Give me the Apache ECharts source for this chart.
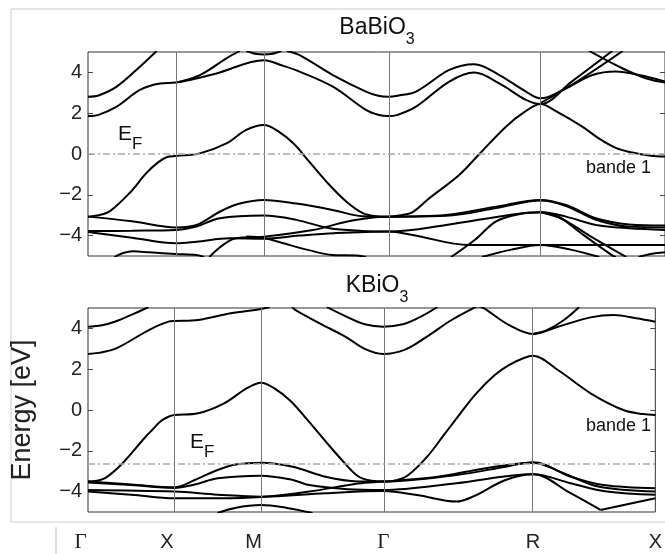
<!DOCTYPE html>
<html>
<head>
<meta charset="utf-8">
<script src="https://cdn.jsdelivr.net/npm/echarts@6/dist/echarts.min.js"></script>
<style>
  html, body { margin: 0; padding: 0; background: #fff; }
  #chart { width: 665px; height: 554px; }
</style>
</head>
<body>
<div id="chart"></div>
<script>
// path positions of the high-symmetry points and their labels
const kPos = [0, 0.5, 1.0, 1.7071, 2.5731, 3.2802];
const kLabels = ['Γ', 'X', 'M', 'Γ', 'R', 'X'];
const yTicks = [-4, -2, 0, 2, 4];
const fermiBa = 0;
const fermiK = -2.65;

// BaBiO3 bands, [k, E(eV)]
const baA = [[0,-3.07],[0.06,-3.0],[0.125,-2.8],[0.238,-1.9],[0.33,-0.95],[0.4,-0.4],[0.45,-0.15],[0.5,-0.1],[0.636,0.03],[0.787,0.52],[0.9,1.18],[1.0,1.42],[1.08,1.12],[1.17,0.5],[1.26,-0.4],[1.36,-1.4],[1.468,-2.33],[1.562,-2.9],[1.64,-3.05],[1.707,-3.07],[1.78,-3.0],[1.846,-2.85],[1.94,-2.17],[2.11,-1.03],[2.225,0],[2.376,1.34],[2.48,2.05],[2.573,2.45],[2.66,2.1],[2.81,1.34],[2.906,0.75],[3.0,0.3],[3.094,0.07],[3.2,-0.08],[3.28,-0.12]];
const baC1 = [[0,1.86],[0.06,1.92],[0.163,2.32],[0.295,3.14],[0.409,3.46],[0.5,3.5],[0.73,3.95],[1.0,4.6],[1.1,4.35],[1.203,4.04],[1.392,3.3],[1.58,2.16],[1.65,1.92],[1.707,1.86],[1.76,1.92],[1.865,2.32],[2.054,3.55],[2.196,3.99],[2.338,3.46],[2.49,2.65],[2.573,2.45],[2.75,3.55],[2.98,5.05]];
const baC2 = [[0,2.81],[0.06,2.87],[0.163,3.3],[0.295,4.28],[0.39,5.05]];
const baC2b = [[1.13,5.05],[1.203,4.85],[1.392,3.87],[1.58,3.06],[1.65,2.86],[1.707,2.81],[1.76,2.86],[1.865,3.06],[2.054,4.12],[2.196,4.4],[2.338,3.87],[2.49,3.06],[2.573,2.73],[2.717,3.22],[2.868,3.87],[3.0,4.04],[3.133,3.87],[3.28,3.55]];
const baC3 = [[0.5,3.5],[0.636,3.87],[0.787,4.69],[0.863,5.05]];
const baC3b = [[2.85,5.05],[3.019,4.28],[3.171,3.71],[3.28,3.5]];
const baC4 = [[2.573,2.5],[2.78,3.55],[3.04,5.05]];
const baTop = [[0.9,5.05],[0.96,4.9],[1.0,4.88],[1.04,4.9],[1.1,5.05]];
const baV1 = [[0,-3.07],[0.25,-3.3],[0.5,-3.6],[0.617,-3.48],[0.749,-2.83],[0.863,-2.43],[1.0,-2.25],[1.184,-2.43],[1.39,-2.74],[1.56,-3.05],[1.707,-3.07],[2.036,-2.99],[2.32,-2.58],[2.573,-2.25],[2.717,-2.5],[2.887,-3.15],[3.076,-3.45],[3.28,-3.5]];
const baV3 = [[0,-3.78],[0.25,-3.76],[0.5,-3.72],[0.617,-3.55],[0.749,-3.15],[1.0,-3.02],[1.184,-3.23],[1.373,-3.64],[1.56,-3.77],[1.707,-3.8],[2.036,-3.48],[2.414,-2.96],[2.573,-2.86],[2.717,-3.07],[2.887,-3.48],[3.076,-3.64],[3.28,-3.72]];
const baV4 = [[0,-3.82],[0.25,-4.1],[0.5,-4.38],[0.617,-4.3],[0.806,-4.13],[1.0,-4.15],[1.2,-4.0],[1.4,-3.88],[1.707,-3.8],[1.846,-3.97],[2.168,-4.46],[2.573,-4.46],[3.28,-4.46]];
const baV5 = [[0.69,-5.05],[0.84,-4.13],[1.0,-4.05],[1.279,-3.73],[1.468,-3.32],[1.62,-3.11],[1.707,-3.07],[2.036,-3.03],[2.32,-2.65],[2.573,-2.28],[2.717,-2.55],[2.887,-3.22],[3.076,-3.56],[3.28,-3.6]];
const baV6 = [[0.9,-4.05],[1.0,-4.12],[1.1,-4.35],[1.25,-4.7],[1.39,-4.95],[1.53,-4.98],[1.58,-5.05]];
const baV7 = [[0.15,-5.05],[0.2,-4.85],[0.257,-4.77],[0.35,-4.82],[0.5,-4.9],[0.617,-4.95],[0.66,-5.05]];
const baV8 = [[2.064,-5.05],[2.2,-4.2],[2.32,-3.3],[2.45,-2.95],[2.573,-2.86],[2.68,-3.1],[2.79,-3.8],[2.98,-4.97],[3.0,-5.05]];
const baV9 = [[2.24,-5.05],[2.4,-4.7],[2.573,-4.46],[2.75,-4.7],[2.906,-5.05]];
const baV10 = [[2.573,-2.86],[2.7,-3.2],[2.85,-4.0],[3.06,-5.05]];
const baV11 = [[3.13,-5.05],[3.2,-4.9],[3.28,-4.82]];

// KBiO3 bands, [k, E(eV)]
const kA = [[0,-3.51],[0.05,-3.47],[0.106,-3.3],[0.2,-2.61],[0.333,-1.31],[0.371,-0.98],[0.42,-0.55],[0.465,-0.33],[0.5,-0.25],[0.636,-0.16],[0.787,0.33],[0.919,1.07],[1.0,1.34],[1.08,1.05],[1.17,0.45],[1.27,-0.5],[1.37,-1.5],[1.468,-2.45],[1.562,-3.25],[1.64,-3.47],[1.707,-3.51],[1.78,-3.45],[1.85,-3.2],[1.96,-2.3],[2.06,-1.2],[2.15,-0.2],[2.244,0.8],[2.35,1.7],[2.433,2.2],[2.52,2.55],[2.573,2.66],[2.717,1.96],[2.906,0.82],[3.095,0],[3.21,-0.2],[3.28,-0.25]];
const kL1 = [[0,4.08],[0.08,4.15],[0.163,4.35],[0.26,4.7],[0.35,5.05]];
const kL2 = [[0,2.75],[0.06,2.8],[0.163,3.02],[0.352,3.92],[0.465,4.33],[0.5,4.36],[0.636,4.41],[0.825,4.74],[1.0,4.95],[1.05,5.05]];
const kL3 = [[1.38,5.05],[1.5,4.55],[1.6,4.2],[1.707,4.08],[1.82,4.2],[1.93,4.6],[2.02,5.05]];
const kL4 = [[1.18,5.05],[1.2,4.9],[1.35,4.2],[1.487,3.6],[1.6,3.0],[1.707,2.75],[1.83,2.95],[1.96,3.6],[2.1,4.4],[2.225,4.98],[2.255,5.08],[2.29,4.98],[2.433,4.17],[2.573,3.73],[2.717,4.08],[2.906,4.54],[3.04,4.66],[3.17,4.5],[3.28,4.33]];
const kL5 = [[2.573,3.73],[2.65,3.9],[2.75,4.4],[2.84,5.05]];
const kW1 = [[0,-3.51],[0.25,-3.65],[0.5,-3.79],[0.617,-3.43],[0.749,-2.94],[0.863,-2.66],[1.0,-2.58],[1.184,-2.78],[1.373,-3.27],[1.562,-3.5],[1.707,-3.51],[2.13,-3.19],[2.414,-2.78],[2.573,-2.56],[2.792,-3.27],[2.98,-3.68],[3.28,-3.84]];
const kW2 = [[0,-3.92],[0.5,-4.0],[0.75,-4.15],[1.0,-4.25],[1.373,-4.08],[1.707,-3.97],[1.903,-4.17],[2.13,-4.49],[2.225,-4.25],[2.414,-3.43],[2.573,-3.15],[2.79,-4.08],[2.963,-4.9]];
const kW3 = [[0,-4.0],[0.25,-4.15],[0.5,-4.33],[0.75,-4.33],[1.0,-4.27],[1.279,-4.0],[1.562,-3.6],[1.707,-3.51],[2.0,-3.3],[2.3,-2.85],[2.573,-2.58],[2.75,-3.1],[2.95,-3.75],[3.28,-4.0]];
const kW4 = [[0,-3.55],[0.25,-3.68],[0.5,-3.82],[0.617,-3.65],[0.75,-3.35],[1.0,-3.22],[1.184,-3.43],[1.279,-3.68],[1.5,-3.88],[1.707,-3.92],[2.13,-3.59],[2.573,-3.15],[2.79,-3.59],[3.0,-4.0],[3.28,-4.16]];
const kW5 = [[0.749,-5.05],[0.85,-4.8],[1.0,-4.66],[1.15,-4.8],[1.298,-5.05]];
const kW6 = [[2.963,-4.9],[3.28,-4.33]];

const bandsBa = [baA, baC1, baC2, baC2b, baC3, baC3b, baC4, baTop, baV1, baV3, baV4, baV5, baV6, baV7, baV8, baV9, baV10, baV11];
const bandsK = [kA, kL1, kL2, kL3, kL4, kL5, kW1, kW2, kW3, kW4, kW5, kW6];

const FONT = '"Liberation Sans", Arial, Helvetica, sans-serif';
const SERIF = '"Liberation Serif", "Times New Roman", serif';
const minus = v => String(v).replace('-', '\u2212');

function bandSeries(bands, gi) {
  return bands.map(b => ({
    type: 'line', xAxisIndex: gi, yAxisIndex: gi * 2, data: b,
    showSymbol: false, smooth: 0.35, silent: true, z: 3,
    lineStyle: { color: '#000', width: 2 }
  }));
}

function guideSeries(gi, fermi) {
  return {
    type: 'line', xAxisIndex: gi, yAxisIndex: gi * 2, data: [], silent: true, z: 1,
    markLine: {
      silent: true, symbol: ['none', 'none'], label: { show: false },
      animation: false,
      data: kPos.slice(1, 5).map(v => ({ xAxis: v, lineStyle: { color: '#777', width: 1, type: 'solid' } }))
        .concat([{ yAxis: fermi, lineStyle: { color: '#aaa', width: 1.5, type: [7, 3, 2, 3] } }])
    }
  };
}

function xAx(gi, labels) {
  return {
    gridIndex: gi, type: 'value', min: kPos[0], max: kPos[5],
    axisLine: { show: false }, axisTick: { show: false }, splitLine: { show: false },
    axisLabel: labels ? {
      show: true, customValues: kPos, margin: 20, fontSize: 20, color: '#222', fontFamily: FONT,
      formatter: v => {
        const i = kPos.indexOf(v);
        const name = kLabels[i];
        const st = (name === 'Γ' ? 'g' : 't') + (i < 3 ? 's' : '');
        return '{' + st + '|' + name + '}';
      },
      rich: {
        g: { fontFamily: SERIF, fontSize: 21, color: '#222' },
        gs: { fontFamily: SERIF, fontSize: 21, color: '#222', padding: [0, 15, 0, 0] },
        t: { fontFamily: FONT, fontSize: 20, color: '#222' },
        ts: { fontFamily: FONT, fontSize: 20, color: '#222', padding: [0, 15, 0, 0] }
      }
    } : { show: false }
  };
}

function yAxes(gi, name) {
  return [{
    gridIndex: gi, type: 'value', min: -5, max: 5, position: 'left',
    name: name || '', nameLocation: 'middle', nameGap: 52,
    nameTextStyle: { fontSize: 27, color: '#222', fontFamily: FONT },
    axisLine: { show: false }, splitLine: { show: false },
    axisTick: { show: true, inside: true, length: 5, customValues: yTicks, lineStyle: { color: '#444' } },
    axisLabel: { customValues: yTicks, margin: 6, fontSize: 20, color: '#222', fontFamily: FONT, formatter: minus }
  }, {
    gridIndex: gi, type: 'value', min: -5, max: 5, position: 'right',
    axisLine: { show: false }, splitLine: { show: false }, axisLabel: { show: false },
    axisTick: { show: true, inside: true, length: 5, customValues: yTicks, lineStyle: { color: '#444' } }
  }];
}

const subRich = (big, small, lh) => ({
  m: { fontSize: big, lineHeight: lh, verticalAlign: 'top', fontFamily: FONT, fill: '#111' },
  s: { fontSize: small, lineHeight: lh, verticalAlign: 'bottom', fontFamily: FONT, fill: '#111' }
});

const chart = echarts.init(document.getElementById('chart'));
chart.setOption({
  backgroundColor: '#fff',
  animation: false,
  grid: [
    { left: 88, top: 52, width: 578, height: 204, show: true, borderColor: '#333', borderWidth: 1 },
    { left: 88, top: 308, width: 578, height: 204, show: true, borderColor: '#333', borderWidth: 1 }
  ],
  xAxis: [xAx(0, false), xAx(1, true)],
  yAxis: yAxes(0).concat(yAxes(1, 'Energy [eV]')),
  series: [guideSeries(0, fermiBa), guideSeries(1, fermiK)]
    .concat(bandSeries(bandsBa, 0), bandSeries(bandsK, 1)),
  graphic: [
    { type: 'rect', silent: true, z: -1, shape: { x: 11, y: 9, width: 700, height: 513 },
      style: { fill: 'none', stroke: '#ccc', lineWidth: 1 } },
    { type: 'line', silent: true, shape: { x1: 56, y1: 527, x2: 56, y2: 554 },
      style: { stroke: '#bbb', lineWidth: 1 } },
    { type: 'text', x: 377, y: 16, silent: true,
      style: { text: '{m|BaBiO}{s|3}', align: 'center', verticalAlign: 'top', rich: subRich(23, 16, 32) } },
    { type: 'text', x: 377, y: 274, silent: true,
      style: { text: '{m|KBiO}{s|3}', align: 'center', verticalAlign: 'top', rich: subRich(23, 16, 32) } },
    { type: 'text', x: 118, y: 124, silent: true,
      style: { text: '{m|E}{s|F}', align: 'left', verticalAlign: 'top', rich: subRich(21, 17, 29) } },
    { type: 'text', x: 190, y: 432, silent: true,
      style: { text: '{m|E}{s|F}', align: 'left', verticalAlign: 'top', rich: subRich(21, 17, 29) } },
    { type: 'text', x: 586, y: 168, silent: true,
      style: { text: 'bande 1', fontSize: 18, fontFamily: FONT, fill: '#111', verticalAlign: 'middle' } },
    { type: 'text', x: 586, y: 426, silent: true,
      style: { text: 'bande 1', fontSize: 18, fontFamily: FONT, fill: '#111', verticalAlign: 'middle' } }
  ]
});
</script>
</body>
</html>
